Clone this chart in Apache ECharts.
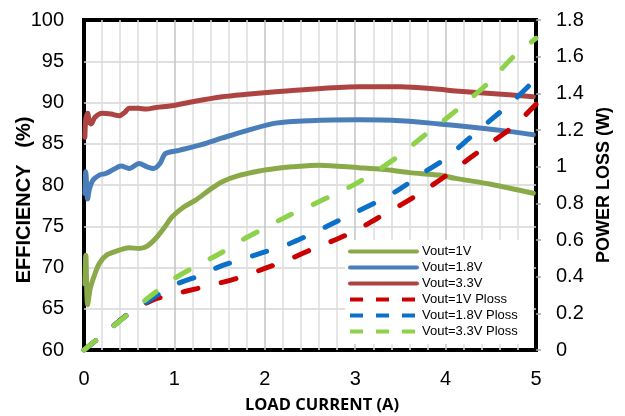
<!DOCTYPE html>
<html>
<head>
<meta charset="utf-8">
<script src="https://cdn.jsdelivr.net/npm/echarts@6/dist/echarts.min.js"></script>
<style>
html,body{margin:0;padding:0;background:#fff;}
#chart{width:625px;height:416px;}
</style>
</head>
<body>
<div id="chart"></div>
<script>
// ---- data ----
const seriesNames = ['Vout=1V','Vout=1.8V','Vout=3.3V','Vout=1V Ploss','Vout=1.8V Ploss','Vout=3.3V Ploss'];

const eff1V_x  = [0.01,0.02,0.04,0.07,0.12,0.17,0.25,0.39,0.5,0.61,0.7,0.8,0.9,0.97,1.1,1.24,1.4,1.53,1.7,1.94,2.12,2.3,2.6,3.04,3.3,3.6,3.93,4.11,4.5,4.97];
const eff1V_y  = [68,71.5,65.5,67.5,69.2,70.5,71.5,72.1,72.4,72.3,72.6,73.6,75,76.1,77.3,78.2,79.5,80.4,81.1,81.7,82.0,82.2,82.4,82.1,81.9,81.5,81.2,80.8,80.1,79.0];

const eff18V_x = [0.01,0.02,0.04,0.06,0.1,0.17,0.24,0.33,0.41,0.5,0.61,0.7,0.77,0.84,0.9,1.05,1.3,1.53,1.8,2.12,2.5,3.04,3.5,3.93,4.3,4.7,4.97];
const eff18V_y = [79,81.6,78.3,79.5,80.6,81.2,81.4,81.9,82.3,82.0,82.6,82.2,82.0,82.6,83.8,84.2,84.9,85.7,86.6,87.5,87.8,87.9,87.8,87.4,87.0,86.5,86.1];

const eff33V_x = [0.01,0.02,0.04,0.06,0.08,0.12,0.2,0.3,0.39,0.45,0.5,0.6,0.69,0.8,0.97,1.2,1.53,1.8,2.12,2.5,3.04,3.5,3.93,4.11,4.5,4.97];
const eff33V_y = [85.8,88.0,88.7,87.6,87.4,88.2,88.7,88.6,88.4,88.8,89.3,89.3,89.2,89.4,89.6,90.1,90.7,91.0,91.3,91.6,91.9,91.9,91.6,91.4,91.1,90.7];

const ploss_x      = [0,0.25,0.5,0.75,1,1.25,1.5,1.75,2,2.25,2.5,2.75,3,3.25,3.5,3.75,4,4.25,4.5,4.75,5];
const ploss1V_y    = [0,0.1,0.2,0.27,0.305,0.335,0.365,0.40,0.445,0.49,0.545,0.595,0.65,0.72,0.79,0.865,0.95,1.04,1.13,1.22,1.34];
const ploss18V_y   = [0,0.1,0.2,0.28,0.355,0.40,0.455,0.495,0.535,0.575,0.63,0.69,0.75,0.81,0.88,0.965,1.045,1.15,1.255,1.36,1.48];
const ploss33V_y   = [0,0.1,0.2,0.30,0.39,0.46,0.525,0.60,0.665,0.73,0.785,0.845,0.905,0.98,1.065,1.165,1.26,1.36,1.47,1.60,1.70];

const xTicks = [0,1,2,3,4,5];
const effTicks = [60,65,70,75,80,85,90,95,100];
const lossTicks = [0,0.2,0.4,0.6,0.8,1,1.2,1.4,1.6,1.8];

const colors = ['#8AAA4A','#4A7EBB','#AD4442','#CC0000','#0A70C8','#8ED14B'];

function pairs(xs, ys){ return xs.map((x,i)=>[x, ys[i]]); }

const chart = echarts.init(document.getElementById('chart'), null, {renderer:'canvas'});
const FONT = 'Liberation Sans, Arial, sans-serif';

function solid(i, xs, ys){
  return {
    name: seriesNames[i], type:'line', yAxisIndex:0, data: pairs(xs, ys),
    smooth:0.3, symbol:'none', color: colors[i],
    lineStyle:{width:5, color: colors[i], cap:'round', join:'round'},
    z: 2
  };
}
function dashed(i, ys){
  return {
    name: seriesNames[i], type:'line', yAxisIndex:1, data: pairs(ploss_x, ys),
    smooth:0.3, symbol:'none', color: colors[i],
    lineStyle:{width:5, color: colors[i], type:[15,24], cap:'round'},
    z: 3
  };
}

const option = {
  animation:false,
  backgroundColor:'#fff',
  grid:{left:84, right:89, top:20, bottom:66, show:true, borderColor:'#000', borderWidth:4, backgroundColor:'#fff'},
  xAxis:{
    type:'value', min:xTicks[0], max:xTicks[xTicks.length-1], interval:1,
    axisLine:{show:false}, axisTick:{show:false},
    axisLabel:{fontSize:20, color:'#000', fontFamily:FONT, margin:19},
    splitLine:{show:true, showMinLine:false, showMaxLine:false, lineStyle:{color:'#C4C4C4', width:1.5}},
    minorTick:{show:false, splitNumber:5},
    minorSplitLine:{show:true, lineStyle:{color:'#DDDDDD', width:1.5}}
  },
  yAxis:[
    {
      type:'value', min:effTicks[0], max:effTicks[effTicks.length-1], interval:5, position:'left',
      axisLine:{show:false}, axisTick:{show:false},
      axisLabel:{fontSize:20, color:'#000', fontFamily:FONT, margin:20},
      splitLine:{show:true, showMinLine:false, showMaxLine:false, lineStyle:{color:'#D6D6D6', width:1.5}}
    },
    {
      type:'value', min:lossTicks[0], max:lossTicks[lossTicks.length-1], interval:0.2, position:'right',
      axisLine:{show:false},
      axisTick:{show:true, inside:false, length:5, lineStyle:{color:'#A6A6A6', width:1.5}},
      axisLabel:{fontSize:20, color:'#000', fontFamily:FONT, margin:20,
        formatter: v => String(+v.toFixed(1))},
      splitLine:{show:false}
    }
  ],
  legend:{
    orient:'vertical', left:348, top:245, padding:0, itemGap:3,
    itemWidth:67, itemHeight:14,
    textStyle:{fontSize:13, color:'#000', fontFamily:FONT},
    itemStyle:{opacity:0, borderWidth:0},
    data: seriesNames.map((n,i)=>({
      name:n,
      itemStyle:{opacity:0, borderWidth:0},
      lineStyle: i<3 ? {width:4, type:'solid'} : {width:4, type:[13,13], cap:'butt'}
    })),
    z: 10
  },
  graphic:[
    {type:'rect', z:5, shape:{x:345, y:240, width:188, height:104}, style:{fill:'#fff'}},
    {type:'text', x:24, y:200, rotation:Math.PI/2, z:10,
      style:{text:'EFFICIENCY   (%)', font:'bold 20px Liberation Sans, Arial, sans-serif', fill:'#000', textAlign:'center', textVerticalAlign:'middle'}},
    {type:'text', x:604, y:185, rotation:Math.PI/2, z:10,
      style:{text:'POWER LOSS (W)', font:'bold 18px Liberation Sans, Arial, sans-serif', fill:'#000', textAlign:'center', textVerticalAlign:'middle'}},
    {type:'text', x:322, y:405, z:10,
      style:{text:'LOAD CURRENT (A)', font:'bold 16.5px Open Sans, sans-serif', fill:'#000', textAlign:'center', textVerticalAlign:'middle'}}
  ],
  series:[
    solid(0, eff1V_x, eff1V_y),
    solid(1, eff18V_x, eff18V_y),
    solid(2, eff33V_x, eff33V_y),
    dashed(3, ploss1V_y),
    dashed(4, ploss18V_y),
    dashed(5, ploss33V_y)
  ]
};
chart.setOption(option);
</script>
</body>
</html>
